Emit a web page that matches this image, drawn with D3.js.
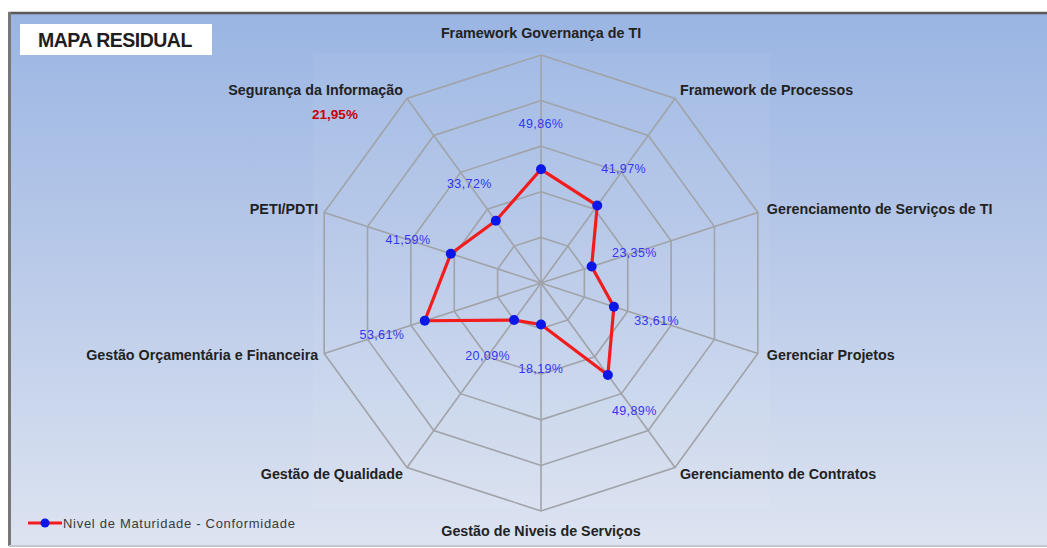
<!DOCTYPE html>
<html>
<head>
<meta charset="utf-8">
<script src="https://cdn.jsdelivr.net/npm/d3@7"></script>
<style>
  body { margin: 0; background: #fff; }
  .axis-label { font-family: "Liberation Sans", Arial, sans-serif; font-weight: bold; font-size: 14.3px; fill: #222; }
  .value-label { font-family: "Liberation Sans", Arial, sans-serif; font-size: 12.5px; letter-spacing: 0.4px; fill: #3535f5; }
</style>
</head>
<body>
<div class="chart"></div>
<script>
const categories = ["Framework Governança de TI", "Framework de Processos", "Gerenciamento de Serviços de TI",
                    "Gerenciar Projetos", "Gerenciamento de Contratos", "Gestão de Niveis de Serviços",
                    "Gestão de Qualidade", "Gestão Orçamentária e Financeira", "PETI/PDTI", "Segurança da Informação"];
const values = [49.86, 41.97, 23.35, 33.61, 49.89, 18.19, 20.09, 53.61, 41.59, 33.72];
const valueLabels = ["49,86%", "41,97%", "23,35%", "33,61%", "49,89%", "18,19%", "20,09%", "53,61%", "41,59%", "33,72%"];
const ringTicks = [20, 40, 60, 80, 100];
const seriesName = "Nivel de Maturidade - Conformidade";
const chartTitle = "MAPA RESIDUAL";
const residualNote = "21,95%";

const width = 1047, height = 548;
const cx = 541, cy = 283, radius = 228;

const svg = d3.select(".chart").append("svg")
  .attr("width", width)
  .attr("height", height);

// background gradient
const defs = svg.append("defs");
const grad = defs.append("linearGradient")
  .attr("id", "bg").attr("x1", 0).attr("y1", 0).attr("x2", 0).attr("y2", 1);
grad.append("stop").attr("offset", "0%").attr("stop-color", "#9ab5e3");
grad.append("stop").attr("offset", "50%").attr("stop-color", "#bbcbe9");
grad.append("stop").attr("offset", "100%").attr("stop-color", "#dde4f1");

svg.append("rect")
  .attr("x", 9).attr("y", 13)
  .attr("width", width - 9).attr("height", 533)
  .attr("fill", "url(#bg)");

// faint plot area
svg.append("rect")
  .attr("x", 313).attr("y", 53)
  .attr("width", 457).attr("height", 455)
  .attr("fill", "#fff").attr("fill-opacity", 0.05);

// frame edges
svg.append("line").attr("x1", 9).attr("x2", width).attr("y1", 13).attr("y2", 13)
  .attr("stroke", "#5a5a5a").attr("stroke-width", 2.5);
svg.append("line").attr("x1", 9.5).attr("x2", 9.5).attr("y1", 12).attr("y2", 546)
  .attr("stroke", "#777").attr("stroke-width", 3);
svg.append("line").attr("x1", 9).attr("x2", width).attr("y1", 546).attr("y2", 546)
  .attr("stroke", "#c4c8ce").attr("stroke-width", 2);

const r = d3.scaleLinear().domain([0, 100]).range([0, radius]);
const angle = i => i * 2 * Math.PI / categories.length;
const pt = (i, v) => [cx + r(v) * Math.sin(angle(i)), cy - r(v) * Math.cos(angle(i))];

const grid = svg.append("g").attr("class", "grid");

// rings
grid.selectAll("path.ring")
  .data(ringTicks)
  .enter().append("path")
    .attr("class", "ring")
    .attr("d", t => d3.line()(categories.map((c, i) => pt(i, t))) + "Z")
    .attr("fill", "none")
    .attr("stroke", "#a0a3a8")
    .attr("stroke-width", 1.6);

// spokes
grid.selectAll("line.spoke")
  .data(categories)
  .enter().append("line")
    .attr("class", "spoke")
    .attr("x1", cx).attr("y1", cy)
    .attr("x2", (d, i) => pt(i, 100)[0])
    .attr("y2", (d, i) => pt(i, 100)[1])
    .attr("stroke", "#a0a3a8")
    .attr("stroke-width", 1.6);

// category labels
svg.append("g").selectAll("text")
  .data(categories)
  .enter().append("text")
    .attr("class", "axis-label")
    .attr("x", (d, i) => {
      const [x] = pt(i, 100);
      const s = Math.sin(angle(i));
      if (Math.abs(s) < 0.01) return x;
      return s > 0 ? x + (Math.abs(s) > 0.9 ? 9 : 5) : x - (Math.abs(s) > 0.9 ? 6 : 4);
    })
    .attr("y", (d, i) => {
      const [, y] = pt(i, 100);
      const c = Math.cos(angle(i));
      if (c > 0.99) return y - 17;
      if (c < -0.99) return y + 25;
      return y + 4 - 9 * c;
    })
    .attr("text-anchor", (d, i) => {
      const s = Math.sin(angle(i));
      return Math.abs(s) < 0.01 ? "middle" : (s > 0 ? "start" : "end");
    })
    .text(d => d);

// series line
svg.append("path")
  .attr("d", d3.line()(values.map((v, i) => pt(i, v))) + "Z")
  .attr("fill", "none")
  .attr("stroke", "#f21c1c")
  .attr("stroke-width", 3.2)
  .attr("stroke-linejoin", "round");

svg.append("g").selectAll("circle")
  .data(values)
  .enter().append("circle")
    .attr("cx", (v, i) => pt(i, v)[0])
    .attr("cy", (v, i) => pt(i, v)[1])
    .attr("r", 5)
    .attr("fill", "#0a17e8");

// value labels, pushed out along each spoke
svg.append("g").selectAll("text")
  .data(values)
  .enter().append("text")
    .attr("class", "value-label")
    .attr("x", (v, i) => pt(i, v)[0] + 45 * Math.sin(angle(i)))
    .attr("y", (v, i) => pt(i, v)[1] - 45 * Math.cos(angle(i)) + 4)
    .attr("text-anchor", "middle")
    .text((v, i) => valueLabels[i]);

// residual note
svg.append("text")
  .attr("x", 335).attr("y", 119)
  .attr("text-anchor", "middle")
  .style("font-family", "Liberation Sans, Arial, sans-serif")
  .style("font-weight", "bold")
  .style("font-size", "13.5px")
  .attr("fill", "#c8000a")
  .text(residualNote);

// title box
svg.append("rect")
  .attr("x", 20).attr("y", 24)
  .attr("width", 192).attr("height", 31)
  .attr("fill", "#fff");
svg.append("text")
  .attr("x", 38).attr("y", 47)
  .style("font-family", "Liberation Sans, Arial, sans-serif")
  .style("font-weight", "bold")
  .style("font-size", "19.5px")
  .style("letter-spacing", "-0.5px")
  .attr("fill", "#1e1e1e")
  .text(chartTitle);

// legend
const legend = svg.append("g").attr("transform", "translate(28,523)");
legend.append("line").attr("x1", 0).attr("x2", 34).attr("y1", 0).attr("y2", 0)
  .attr("stroke", "#f21c1c").attr("stroke-width", 3.2);
legend.append("circle").attr("cx", 17).attr("cy", 0).attr("r", 4.5).attr("fill", "#0a17e8");
legend.append("text")
  .attr("x", 35).attr("y", 4.5)
  .style("font-family", "Liberation Sans, Arial, sans-serif")
  .style("font-size", "13px")
  .style("letter-spacing", "0.7px")
  .attr("fill", "#3a3a3a")
  .text(seriesName);
</script>
</body>
</html>
